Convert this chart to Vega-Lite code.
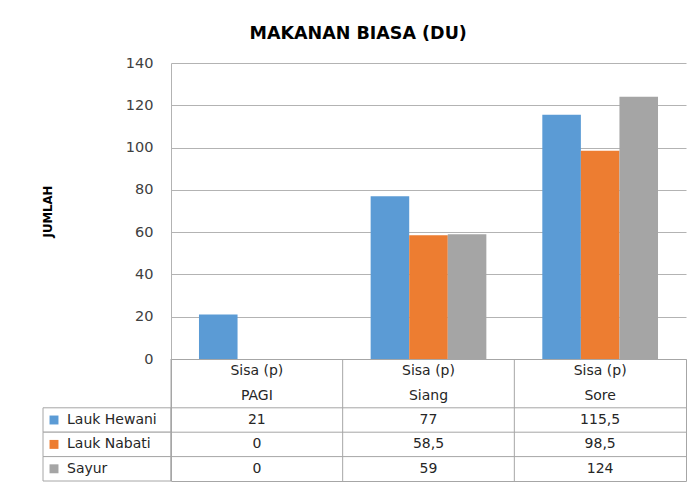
{
  "$schema": "https://vega.github.io/schema/vega-lite/v6.json",
  "background": "white",
  "padding": {"left": 41, "top": 24, "right": 5, "bottom": 4},
  "title": {"text": "MAKANAN BIASA (DU)", "anchor": "middle", "fontSize": 17.5, "font": "DejaVu Sans", "fontWeight": "bold", "color": "#000000", "offset": 13, "dx": -6},
  "datasets": {
    "isi": [
      {"waktu": "PAGI", "seri": "Lauk Hewani", "jumlah": 21, "tampil": "21"},
      {"waktu": "PAGI", "seri": "Lauk Nabati", "jumlah": 0, "tampil": "0"},
      {"waktu": "PAGI", "seri": "Sayur", "jumlah": 0, "tampil": "0"},
      {"waktu": "Siang", "seri": "Lauk Hewani", "jumlah": 77, "tampil": "77"},
      {"waktu": "Siang", "seri": "Lauk Nabati", "jumlah": 58.5, "tampil": "58,5"},
      {"waktu": "Siang", "seri": "Sayur", "jumlah": 59, "tampil": "59"},
      {"waktu": "Sore", "seri": "Lauk Hewani", "jumlah": 115.5, "tampil": "115,5"},
      {"waktu": "Sore", "seri": "Lauk Nabati", "jumlah": 98.5, "tampil": "98,5"},
      {"waktu": "Sore", "seri": "Sayur", "jumlah": 124, "tampil": "124"}
    ],
    "daftarWaktu": [{"waktu": "PAGI"}, {"waktu": "Siang"}, {"waktu": "Sore"}],
    "daftarSeri": [{"seri": "Lauk Hewani"}, {"seri": "Lauk Nabati"}, {"seri": "Sayur"}]
  },
  "spacing": 0,
  "bounds": "flush",
  "columns": 2,
  "concat": [
    {
      "width": 128,
      "height": 296,
      "data": {"values": [{}]},
      "mark": {"type": "point", "opacity": 0},
      "encoding": {}
    },
    {
      "width": 515,
      "height": 296,
      "data": {"name": "isi"},
      "mark": {"type": "bar"},
      "encoding": {
        "x": {"field": "waktu", "type": "nominal", "scale": {"domain": ["PAGI", "Siang", "Sore"], "paddingInner": 0.326, "paddingOuter": 0.163}, "axis": null},
        "xOffset": {"field": "seri", "type": "nominal", "scale": {"domain": ["Lauk Hewani", "Lauk Nabati", "Sayur"], "paddingInner": 0, "paddingOuter": 0}},
        "y": {
          "field": "jumlah", "type": "quantitative",
          "scale": {"domain": [0, 140], "nice": false},
          "axis": {
            "values": [0, 20, 40, 60, 80, 100, 120, 140],
            "title": "JUMLAH",
            "titleFont": "DejaVu Sans Condensed",
            "titleFontSize": 13,
            "titleFontWeight": "bold",
            "titleColor": "#000000",
            "titlePadding": 71,
            "grid": true,
            "gridColor": "#b3b3b3",
            "domain": true,
            "domainColor": "#b3b3b3",
            "ticks": false,
            "tickSize": 0,
            "labelPadding": 18,
            "labelFont": "DejaVu Sans",
            "labelFontSize": 14.5,
            "labelColor": "#404040"
          }
        },
        "color": {"field": "seri", "type": "nominal", "scale": {"domain": ["Lauk Hewani", "Lauk Nabati", "Sayur"], "range": ["#5B9BD5", "#ED7D31", "#A5A5A5"]}, "legend": null}
      }
    },
    {
      "width": 128,
      "height": 122,
      "data": {"name": "daftarSeri"},
      "encoding": {
        "y": {"field": "seri", "type": "nominal", "scale": {"domain": ["h1", "h2", "Lauk Hewani", "Lauk Nabati", "Sayur"], "paddingInner": 0, "paddingOuter": 0}, "axis": null}
      },
      "layer": [
        {"mark": {"type": "rect", "fill": "white", "stroke": "#a6a6a6", "strokeWidth": 1}},
        {
          "mark": {"type": "point", "shape": "square", "filled": true, "size": 80, "opacity": 1, "xOffset": -53},
          "encoding": {"color": {"field": "seri", "type": "nominal", "scale": {"domain": ["Lauk Hewani", "Lauk Nabati", "Sayur"], "range": ["#5B9BD5", "#ED7D31", "#A5A5A5"]}, "legend": null}}
        },
        {
          "mark": {"type": "text", "align": "left", "dx": -40, "font": "DejaVu Sans", "fontSize": 14, "color": "#262626"},
          "encoding": {"text": {"field": "seri"}}
        }
      ]
    },
    {
      "width": 515,
      "height": 122,
      "view": {"stroke": "#a6a6a6"},
      "layer": [
        {
          "data": {"name": "daftarWaktu"},
          "mark": {"type": "rule", "color": "#a6a6a6"},
          "encoding": {"x": {"field": "waktu", "type": "nominal", "bandPosition": 0, "scale": {"domain": ["PAGI", "Siang", "Sore"], "paddingInner": 0, "paddingOuter": 0}, "axis": null}}
        },
        {
          "data": {"name": "daftarSeri"},
          "mark": {"type": "rule", "color": "#a6a6a6"},
          "encoding": {"y": {"field": "seri", "type": "nominal", "bandPosition": 0, "scale": {"domain": ["h1", "h2", "Lauk Hewani", "Lauk Nabati", "Sayur"], "paddingInner": 0, "paddingOuter": 0}, "axis": null}}
        },
        {
          "data": {"name": "isi"},
          "mark": {"type": "text", "font": "DejaVu Sans", "fontSize": 14, "color": "#262626"},
          "encoding": {
            "x": {"field": "waktu", "type": "nominal", "scale": {"domain": ["PAGI", "Siang", "Sore"], "paddingInner": 0, "paddingOuter": 0}, "axis": null},
            "y": {"field": "seri", "type": "nominal", "scale": {"domain": ["h1", "h2", "Lauk Hewani", "Lauk Nabati", "Sayur"], "paddingInner": 0, "paddingOuter": 0}, "axis": null},
            "text": {"field": "tampil"}
          }
        },
        {
          "data": {"name": "daftarWaktu"},
          "mark": {"type": "text", "font": "DejaVu Sans", "fontSize": 14, "color": "#262626"},
          "encoding": {
            "x": {"field": "waktu", "type": "nominal", "axis": null},
            "y": {"datum": "h1", "type": "nominal", "axis": null},
            "text": {"value": "Sisa (p)"}
          }
        },
        {
          "data": {"name": "daftarWaktu"},
          "mark": {"type": "text", "font": "DejaVu Sans", "fontSize": 14, "color": "#262626"},
          "encoding": {
            "x": {"field": "waktu", "type": "nominal", "axis": null},
            "y": {"datum": "h2", "type": "nominal", "axis": null},
            "text": {"field": "waktu"}
          }
        }
      ]
    }
  ],
  "config": {"view": {"stroke": null}, "font": "DejaVu Sans"}
}
